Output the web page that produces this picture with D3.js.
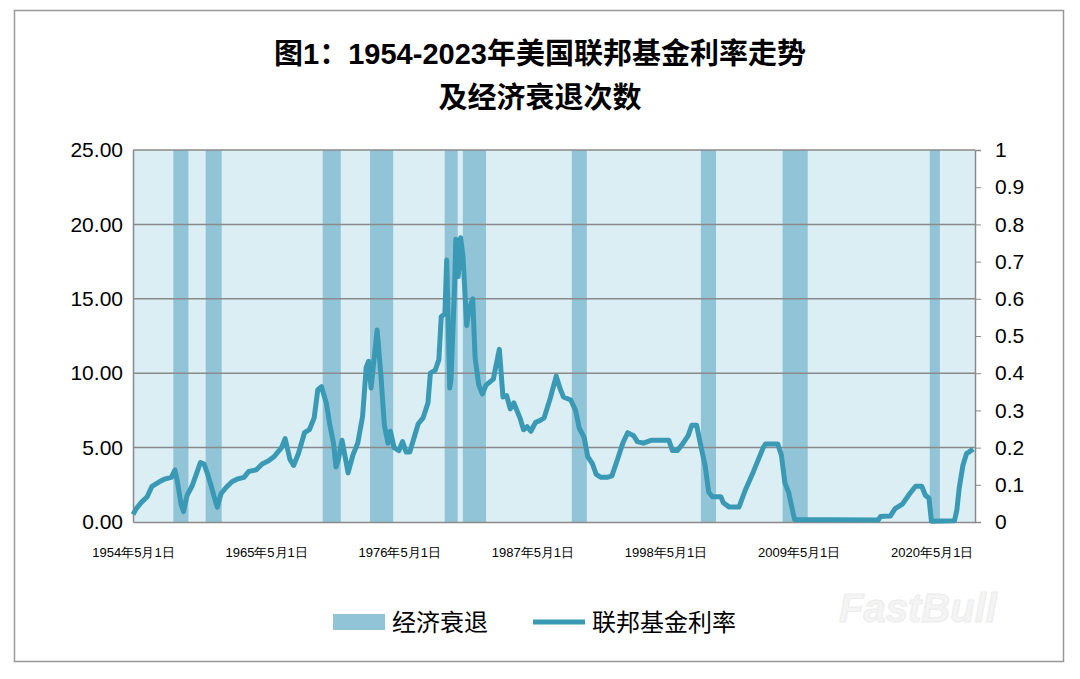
<!DOCTYPE html><html><head><meta charset="utf-8"><script src="https://cdn.jsdelivr.net/npm/d3@7"></script>
<style>body{margin:0;background:#fff}svg{font-family:"Liberation Sans","Noto Sans CJK SC",sans-serif}</style></head><body>
<svg id="c" width="1080" height="679"></svg>
<script>
const recessions=[[1957.58,1958.33],[1960.25,1961.08],[1969.92,1970.92],[1973.83,1975.25],[1980.0,1980.58],[1981.5,1982.92],[1990.5,1991.25],[2001.17,2001.92],[2007.92,2009.5],[2020.08,2020.42]];
const rateYears=[1954.33,1954.6,1955.0,1955.5,1955.9,1956.5,1957.0,1957.5,1957.8,1958.0,1958.3,1958.5,1958.8,1959.2,1959.6,1959.9,1960.2,1960.5,1960.8,1961.1,1961.3,1961.6,1962.0,1962.5,1963.0,1963.5,1963.9,1964.5,1965.0,1965.5,1966.0,1966.6,1966.9,1967.3,1967.6,1968.0,1968.5,1968.9,1969.3,1969.6,1969.9,1970.3,1970.6,1970.9,1971.1,1971.3,1971.6,1971.9,1972.1,1972.5,1972.9,1973.3,1973.6,1973.8,1974.0,1974.5,1974.8,1975.1,1975.4,1975.6,1975.9,1976.3,1976.6,1976.9,1977.2,1977.6,1977.9,1978.3,1978.7,1978.9,1979.3,1979.6,1979.8,1980.1,1980.25,1980.5,1980.6,1980.9,1981.0,1981.2,1981.4,1981.6,1981.9,1982.1,1982.4,1982.6,1982.9,1983.2,1983.5,1983.8,1984.1,1984.5,1984.6,1984.9,1985.2,1985.5,1985.8,1986.3,1986.6,1986.9,1987.2,1987.6,1987.9,1988.3,1988.8,1989.3,1989.6,1989.9,1990.5,1990.9,1991.2,1991.6,1991.9,1992.3,1992.6,1993.0,1993.5,1993.9,1994.4,1994.8,1995.2,1995.7,1996.0,1996.5,1997.2,1997.9,1998.6,1998.9,1999.3,1999.7,2000.2,2000.5,2000.9,2001.2,2001.6,2001.9,2002.2,2002.9,2003.1,2003.6,2004.4,2004.9,2005.6,2006.4,2006.6,2007.6,2007.9,2008.2,2008.5,2008.9,2009.0,2010.0,2012.0,2015.9,2016.1,2016.9,2017.3,2017.9,2018.5,2018.99,2019.5,2019.8,2020.1,2020.3,2022.2,2022.4,2022.6,2022.9,2023.2,2023.75];
const rateValues=[0.5,0.9,1.3,1.7,2.4,2.7,2.9,3.0,3.5,2.7,1.2,0.7,1.8,2.4,3.3,4.0,3.9,3.2,2.4,1.5,1.0,1.9,2.3,2.7,2.9,3.0,3.4,3.5,3.9,4.1,4.4,5.0,5.6,4.2,3.8,4.6,6.0,6.2,7.0,8.9,9.1,8.0,6.5,5.3,3.7,4.2,5.5,4.2,3.3,4.5,5.3,7.1,10.4,10.8,9.0,12.9,10.0,6.5,5.3,6.1,5.0,4.8,5.4,4.7,4.7,5.8,6.6,7.0,8.0,10.0,10.2,10.9,13.8,14.0,17.6,9.0,9.5,15.8,19.0,16.5,19.1,17.8,13.2,14.3,15.0,11.0,9.2,8.6,9.2,9.4,9.6,11.2,11.6,8.4,8.5,7.6,8.0,7.0,6.2,6.4,6.1,6.7,6.8,7.0,8.3,9.8,9.0,8.4,8.2,7.5,6.3,5.7,4.4,3.9,3.2,3.0,3.0,3.1,4.3,5.3,6.0,5.8,5.4,5.3,5.5,5.5,5.5,4.8,4.8,5.2,5.8,6.5,6.5,5.3,3.8,2.0,1.7,1.7,1.3,1.0,1.0,2.1,3.4,5.0,5.25,5.25,4.5,2.6,2.0,0.5,0.15,0.15,0.15,0.13,0.37,0.4,0.9,1.2,1.9,2.4,2.4,1.8,1.6,0.05,0.08,0.8,2.3,3.8,4.6,4.9];
const leftTicks=[0,5,10,15,20,25];
const rightTicks=[0,0.1,0.2,0.3,0.4,0.5,0.6,0.7,0.8,0.9,1];
const xTickYears=[1954,1965,1976,1987,1998,2009,2020];
const titleLines=["图1：1954-2023年美国联邦基金利率走势","及经济衰退次数"];
const legendLabels=["经济衰退","联邦基金利率"];

const svg=d3.select("#c");
svg.append("rect").attr("x",14.5).attr("y",10.5).attr("width",1049).attr("height",651).attr("fill","#fff").attr("stroke","#999").attr("stroke-width",1.5);
const L=133,R=975,T=150,B=522;
const x=d3.scaleLinear().domain([1954.33,2023.9]).range([L,R]);
const y=d3.scaleLinear().domain([0,25]).range([B,T]);
const y2=d3.scaleLinear().domain([0,1]).range([B,T]);
svg.append("rect").attr("x",L).attr("y",T).attr("width",R-L).attr("height",B-T).attr("fill","#daeef4");
svg.selectAll(".rec").data(recessions).join("rect").attr("x",d=>x(d[0])+1).attr("width",d=>x(d[1])-x(d[0])+6).attr("y",y2(1)).attr("height",y2(0)-y2(1)).attr("fill","#92c4d7");
svg.selectAll(".gl").data(leftTicks.slice(1)).join("line").attr("x1",L).attr("x2",R).attr("y1",d=>y(d)).attr("y2",d=>y(d)).attr("stroke","#8a8a8a").attr("stroke-width",1.5);
const ya=svg.append("g").attr("transform",`translate(${L},0)`).call(d3.axisLeft(y).tickValues(leftTicks).tickFormat(d3.format(".2f")).tickSize(0).tickPadding(10));
ya.select(".domain").attr("stroke","#8a8a8a").attr("stroke-width",1.5);
ya.selectAll("text").attr("font-size",21).attr("fill","#000");
const yb=svg.append("g").attr("transform",`translate(${R},0)`).call(d3.axisRight(y2).tickValues(rightTicks).tickFormat(d=>d3.format("")(+d.toFixed(1))).tickSize(6).tickPadding(14));
yb.select(".domain").attr("stroke","#8a8a8a").attr("stroke-width",1.5);
yb.selectAll("line").attr("stroke","#8a8a8a");
yb.selectAll("text").attr("font-size",21).attr("fill","#000");
const xa=svg.append("g").attr("transform",`translate(0,${B})`).call(d3.axisBottom(x).tickValues(xTickYears.map(v=>v+0.33)).tickFormat((d,i)=>xTickYears[i]+"年5月1日").tickSize(0).tickPadding(26));
xa.select(".domain").attr("stroke","#8a8a8a").attr("stroke-width",1.5);
xa.selectAll("text").attr("font-size",13).attr("fill","#000");
const line=d3.line().x((d,i)=>x(rateYears[i])).y(d=>y(d)).curve(d3.curveLinear);
svg.append("path").attr("d",line(rateValues)).attr("fill","none").attr("stroke","#3a9ab5").attr("stroke-width",5).attr("stroke-linejoin","round");
svg.selectAll(".t").data(titleLines).join("text").attr("x",540).attr("y",(d,i)=>64+i*44).attr("text-anchor","middle").attr("font-size",29).attr("font-weight","bold").attr("fill","#000").text(d=>d);
svg.append("text").attr("x",918).attr("y",622).attr("text-anchor","middle").attr("font-size",40).attr("font-weight","bold").attr("fill","#f4f4f4").attr("stroke","#ececec").attr("font-style","italic").text("FastBull");
svg.append("rect").attr("x",333).attr("y",614).attr("width",52).attr("height",16).attr("fill","#92c4d7");
svg.append("text").attr("x",392).attr("y",631).attr("font-size",24).text(legendLabels[0]);
svg.append("line").attr("x1",533).attr("x2",585).attr("y1",622).attr("y2",622).attr("stroke","#3a9ab5").attr("stroke-width",5);
svg.append("text").attr("x",592).attr("y",631).attr("font-size",24).text(legendLabels[1]);
</script></body></html>
